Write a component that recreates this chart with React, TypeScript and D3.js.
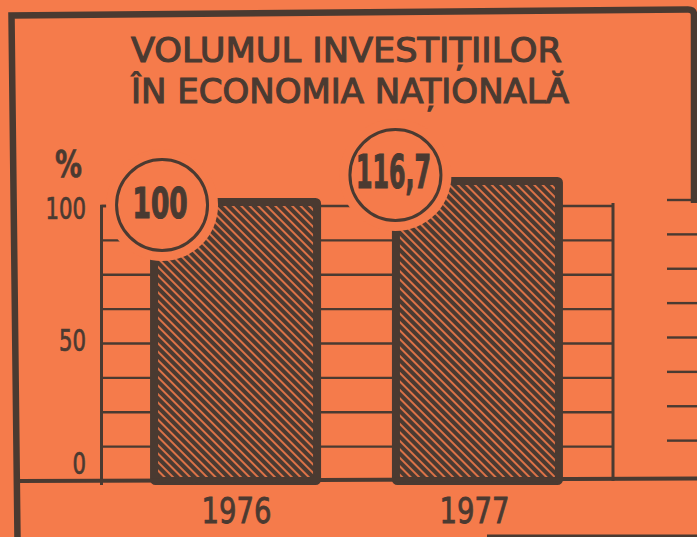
import React from "react";
import * as d3 from "d3";

const years = ["1976", "1977"];
const values = [100, 116.7];
const valueLabels = ["100", "116,7"];
const gridValues = [12.5, 25, 37.5, 50, 62.5, 75, 87.5, 100];
const axisLabels = [0, 50, 100];
const titleLines = ["VOLUMUL INVESTIȚIILOR", "ÎN ECONOMIA NAȚIONALĂ"];

const W = 697;
const H = 537;
const BG = "#f57b4b";
const INK = "#4a3a31";
const FONT = "'DejaVu Sans Condensed', 'Liberation Sans Narrow', 'DejaVu Sans', sans-serif";

export default function App() {
  // schematic (non-proportional) value axis, as in the original poster
  const y = d3.scaleLinear().domain([0, 100, 116.7]).range([481, 206, 185]);
  const x = d3
    .scaleBand<string>()
    .domain(years)
    .range([114.5, 598.5])
    .paddingInner(0.293)
    .paddingOuter(0.147);
  const bw = x.bandwidth();
  const axisX = 101.5;
  const rightX = 613;
  const circleOffsets = [
    [12, -1],
    [3.5, -10],
  ];
  const valueFont = [42, 47];
  const valueWidth = [55, 75];

  return (
    <svg
      width={W}
      height={H}
      style={{ position: "absolute", left: 0, top: 0, background: BG }}
    >
      <defs>
        <pattern
          id="hatch"
          width="6"
          height="6"
          patternUnits="userSpaceOnUse"
          patternTransform="rotate(-45)"
        >
          <rect width="6" height="6" fill={INK} />
          <rect x="0" width="2" height="6" fill={BG} opacity="0.85" />
        </pattern>
      </defs>
      <rect width={W} height={H} fill={BG} />

      {/* frame */}
      <path
        d={`M17.5,540 L11.5,15.5 L688,9.5 Q694,9.5 694,15 L694,203`}
        fill="none"
        stroke={INK}
        strokeWidth={6.5}
      />
      <line x1={487} y1={536} x2={697} y2={536} stroke={INK} strokeWidth={3} />

      {/* title */}
      {titleLines.map((t, i) => (
        <text
          key={t}
          x={131}
          y={i === 0 ? 62 : 103}
          fontFamily={FONT}
          fontSize={33}
          fill={INK}
          stroke={INK}
          strokeWidth={1}
          textLength={i === 0 ? 431 : 438}
          lengthAdjust="spacingAndGlyphs"
        >
          {t}
        </text>
      ))}

      {/* grid lines */}
      {gridValues.map((v) => (
        <line
          key={v}
          x1={axisX}
          x2={rightX}
          y1={y(v)}
          y2={y(v)}
          stroke={INK}
          strokeWidth={2.3}
        />
      ))}
      {/* right partial ticks (next panel) */}
      {gridValues.map((v) => (
        <line
          key={"r" + v}
          x1={667}
          x2={697}
          y1={y(v) - 6}
          y2={y(v) - 6}
          stroke={INK}
          strokeWidth={2.4}
        />
      ))}

      {/* bars */}
      {years.map((yr, i) => (
        <rect
          key={yr}
          x={(x(yr) as number) + 4}
          y={y(values[i]) - 4}
          width={bw - 8}
          height={y(0) - y(values[i]) + 4}
          fill="url(#hatch)"
          stroke={INK}
          strokeWidth={8}
          rx={1.5}
        />
      ))}

      {/* y axis */}
      <line x1={axisX} x2={axisX} y1={y(100)} y2={y(0) + 4} stroke={INK} strokeWidth={3} />
      <line x1={axisX - 1.5} x2={axisX + 5} y1={y(100)} y2={y(100)} stroke={INK} strokeWidth={2.5} />
      {/* right vertical */}
      <line x1={rightX} x2={rightX} y1={y(100) - 3} y2={y(0)} stroke={INK} strokeWidth={3} />

      {/* baseline */}
      <line x1={19} x2={697} y1={481} y2={478.5} stroke={INK} strokeWidth={4} />

      {/* value circles */}
      {years.map((yr, i) => {
        const cx = (x(yr) as number) + circleOffsets[i][0];
        const cy = y(values[i]) + circleOffsets[i][1];
        return (
          <g key={"c" + yr}>
            <circle cx={cx} cy={cy} r={56} fill={BG} />
            <circle cx={cx} cy={cy} r={45.5} fill="none" stroke={INK} strokeWidth={3} />
            <text
              x={cx - 2}
              y={cy + 12.5}
              textAnchor="middle"
              fontFamily={FONT}
              fontWeight="bold"
              fontSize={valueFont[i]}
              fill={INK}
              stroke={INK}
              strokeWidth={1.2}
              textLength={valueWidth[i]}
              lengthAdjust="spacingAndGlyphs"
            >
              {valueLabels[i]}
            </text>
          </g>
        );
      })}

      {/* y labels */}
      <text
        x={68.5}
        y={177}
        textAnchor="middle"
        fontFamily={FONT}
        fontWeight="bold"
        fontSize={38}
        fill={INK}
        stroke={INK}
        strokeWidth={0.6}
        textLength={27}
        lengthAdjust="spacingAndGlyphs"
      >
        %
      </text>
      {axisLabels.map((v) => {
        const s = String(v);
        const ly = v === 0 ? y(0) - 18 : y(v) + (v === 100 ? 2 : -3);
        return (
          <text
            key={"l" + v}
            x={86}
            y={ly}
            dy="0.36em"
            textAnchor="end"
            fontFamily={FONT}
            fontSize={30}
            fill={INK}
            stroke={INK}
            strokeWidth={0.7}
            textLength={s.length * 13.5}
            lengthAdjust="spacingAndGlyphs"
          >
            {s}
          </text>
        );
      })}

      {/* x labels */}
      {years.map((yr) => (
        <text
          key={"x" + yr}
          x={(x(yr) as number) + bw / 2 + (yr === "1976" ? 1 : -3)}
          y={523}
          textAnchor="middle"
          fontFamily={FONT}
          fontSize={35}
          fill={INK}
          stroke={INK}
          strokeWidth={0.8}
          textLength={70}
          lengthAdjust="spacingAndGlyphs"
        >
          {yr}
        </text>
      ))}
    </svg>
  );
}
